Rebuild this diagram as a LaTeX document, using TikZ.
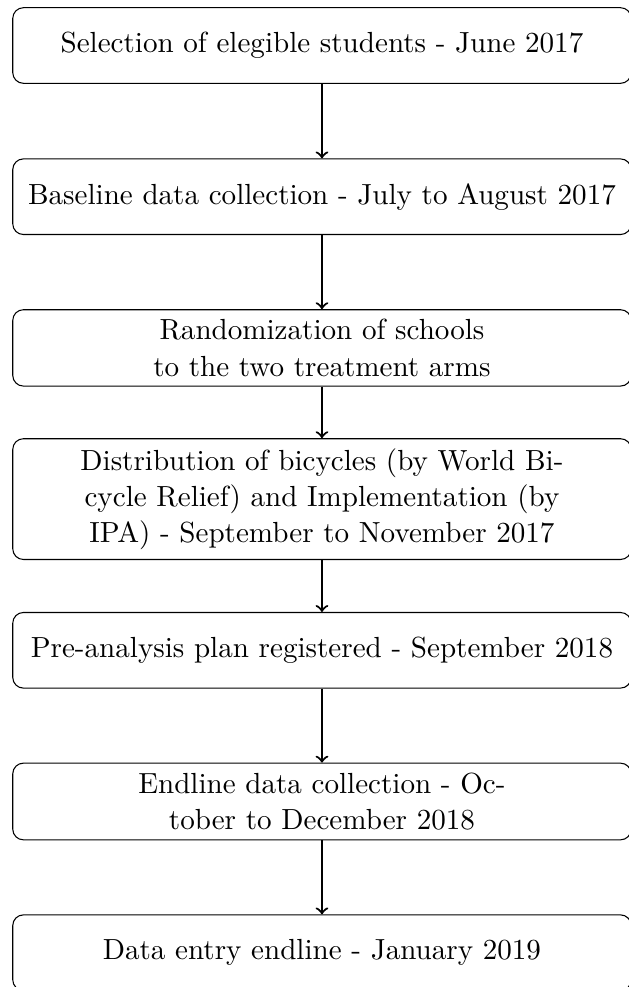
\documentclass[tikz,border=0pt,11pt]{standalone}
\usepackage{tikz}
\usetikzlibrary{positioning, arrows}

\begin{document}
\begin{tikzpicture}[-, node distance=2cm, stepbox/.style={draw, rectangle, rounded corners, align=center, minimum width=8.18cm, minimum height=1cm}]
	\useasboundingbox (-4.259,0.602) rectangle (4.061,-12.454);
	\node[stepbox] (s1) {Selection of elegible students - June 2017};
	\node[stepbox, below of = s1] (s2) {Baseline data collection - July to August 2017};
	\node[stepbox, below of = s2] (s3) {Randomization of schools\\to the two treatment arms};
	\node[stepbox, below of = s3] (s4) {Distribution of bicycles (by World Bi-\\cycle Relief) and Implementation (by\\IPA) - September to November 2017};
	\node[stepbox, below of = s4] (s5) {Pre-analysis plan registered - September 2018};
	\node[stepbox, below of = s5] (s6) {Endline data collection - Oc-\\tober to December 2018};
	\node[stepbox, below of = s6] (s7) {Data entry endline - January 2019};
	
	
	\draw[->, thick] (s1) -- (s2);
	\draw[->, thick] (s2) -- (s3);
	\draw[->, thick] (s3) -- (s4);
	\draw[->, thick] (s4) -- (s5);
	\draw[->, thick] (s5) -- (s6);
	\draw[->, thick] (s6) -- (s7);
	
\end{tikzpicture}
\end{document}
